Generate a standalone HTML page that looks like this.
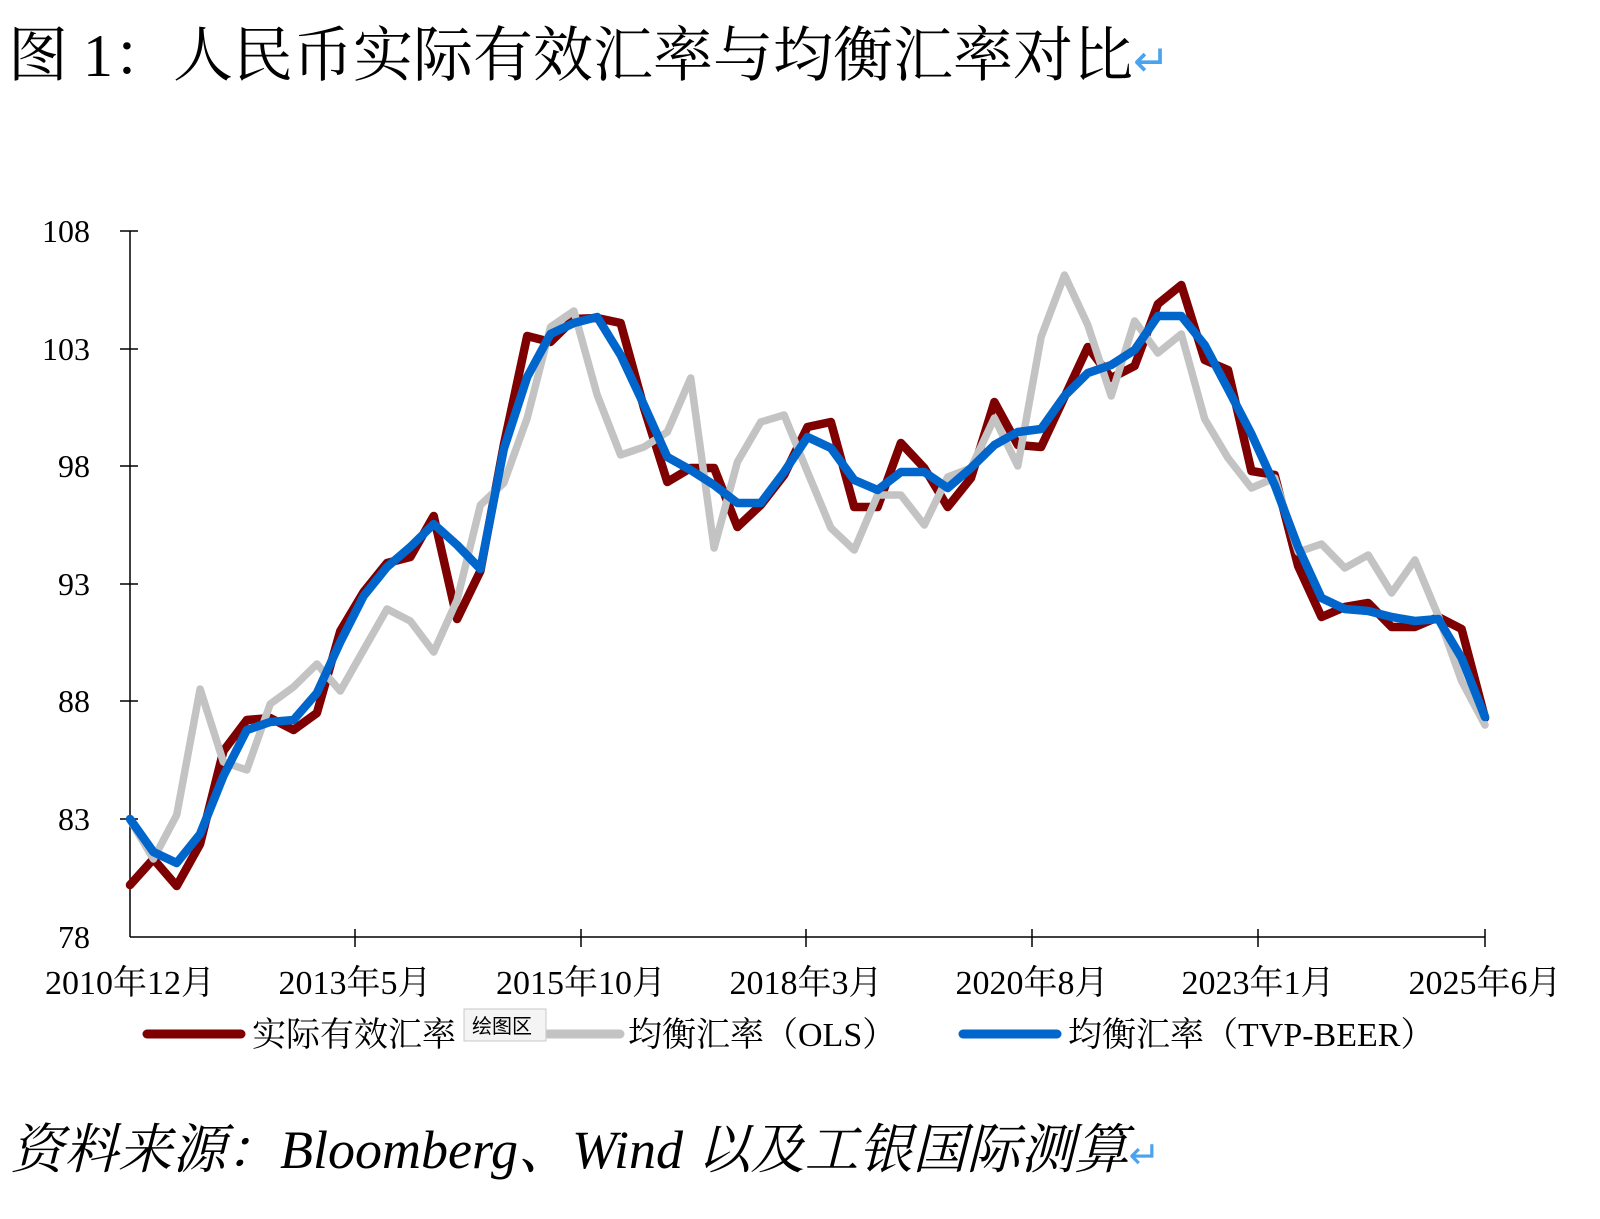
<!DOCTYPE html>
<html><head><meta charset="utf-8">
<style>
html,body{margin:0;padding:0;background:#fff;}
body{width:1600px;height:1214px;overflow:hidden;position:relative;}
</style></head>
<body>
<svg id="s" width="1600" height="1214" viewBox="0 0 1600 1214" xmlns="http://www.w3.org/2000/svg">
<text x="8" y="76" font-family="'Liberation Serif','Noto Serif CJK SC',serif" font-size="60" fill="#000">图 1：人民币实际有效汇率与均衡汇率对比<tspan fill="#4aa3ee" font-size="44">↵</tspan></text>
<g font-family="'Liberation Serif','Noto Serif CJK SC',serif" font-size="32" fill="#000" text-anchor="end">
<text x="90" y="242">108</text>
<text x="90" y="360">103</text>
<text x="90" y="477">98</text>
<text x="90" y="595">93</text>
<text x="90" y="712">88</text>
<text x="90" y="830">83</text>
<text x="90" y="948">78</text>
</g>
<g stroke="#000" stroke-width="1.5">
<line x1="130" y1="231" x2="130" y2="937"/>
<line x1="130" y1="937" x2="1485" y2="937"/>
<line x1="120" y1="231" x2="138" y2="231"/>
<line x1="120" y1="349" x2="138" y2="349"/>
<line x1="120" y1="466" x2="138" y2="466"/>
<line x1="120" y1="584" x2="138" y2="584"/>
<line x1="120" y1="701" x2="138" y2="701"/>
<line x1="120" y1="819" x2="138" y2="819"/>
<line x1="355" y1="929" x2="355" y2="947"/>
<line x1="581" y1="929" x2="581" y2="947"/>
<line x1="806" y1="929" x2="806" y2="947"/>
<line x1="1032" y1="929" x2="1032" y2="947"/>
<line x1="1258" y1="929" x2="1258" y2="947"/>
<line x1="1485" y1="929" x2="1485" y2="947"/>
</g>
<g font-family="'Liberation Serif','Noto Serif CJK SC',serif" font-size="34" fill="#000" text-anchor="middle">
<text x="130" y="994">2010年12月</text>
<text x="355" y="994">2013年5月</text>
<text x="581" y="994">2015年10月</text>
<text x="806" y="994">2018年3月</text>
<text x="1032" y="994">2020年8月</text>
<text x="1258" y="994">2023年1月</text>
<text x="1485" y="994">2025年6月</text>
</g>
<g id="lines" fill="none" stroke-linejoin="round" stroke-linecap="round"></g>
<g>
<line x1="147" y1="1034" x2="241" y2="1034" stroke="#7f0000" stroke-width="9" stroke-linecap="round"/>
<line x1="548" y1="1034" x2="620" y2="1034" stroke="#c3c3c3" stroke-width="9" stroke-linecap="round"/>
<line x1="963" y1="1034" x2="1057" y2="1034" stroke="#0066cc" stroke-width="9" stroke-linecap="round"/>
<g font-family="'Liberation Serif','Noto Serif CJK SC',serif" font-size="34" fill="#000">
<text x="252" y="1046">实际有效汇率</text>
<text x="628" y="1046">均衡汇率（OLS）</text>
<text x="1068" y="1046">均衡汇率（TVP-BEER）</text>
</g>
<rect x="464" y="1009" width="82" height="32" fill="#f4f4f4" stroke="#c8c8c8" stroke-width="1"/>
<text x="472" y="1033" font-family="'Noto Sans CJK SC',sans-serif" font-size="20" fill="#000">绘图区</text>
</g>
<text x="10" y="1168" font-family="'Liberation Serif','Noto Serif CJK SC',serif" font-size="54" font-style="italic" fill="#000">资料来源：Bloomberg、Wind 以及工银国际测算<tspan fill="#4aa3ee" font-size="38" font-style="normal">↵</tspan></text>
</svg>
<script>
var red=[885,859,886,844,751,720,718,730,713,631,592,563,557,516,619,571,445,336,342,319,318,323,408,482,468,468,527,505,475,427,422,507,507,443,468,507,478,402,445,447,397,347,378,366,304,285,360,370,471,475,566,617,607,603,627,627,617,629,718];
var gray=[820,859,815,689,762,770,704,687,664,691,650,609,621,652,600,505,483,418,327,311,395,455,447,432,378,548,462,422,415,472,528,550,495,495,525,477,468,418,466,337,275,325,396,321,353,334,419,458,488,478,552,544,568,555,593,560,616,681,725];
var blue=[819,852,863,834,776,730,722,720,693,642,596,567,547,524,545,569,449,377,334,323,317,355,405,457,470,485,503,503,472,437,448,480,490,472,472,488,468,445,432,429,396,373,365,350,316,316,345,389,434,485,547,598,609,611,617,621,619,658,717];
function pts(a){return a.map(function(y,i){return (130+i*1355/58).toFixed(1)+","+y;}).join(" ");}
var g=document.getElementById("lines");
var ns="http://www.w3.org/2000/svg";
[[red,"#7f0000",8.5],[gray,"#c3c3c3",7.5],[blue,"#0066cc",8.5]].forEach(function(d){
var p=document.createElementNS(ns,"polyline");
p.setAttribute("points",pts(d[0]));p.setAttribute("stroke",d[1]);p.setAttribute("stroke-width",d[2]);
g.appendChild(p);});
</script>
</body></html>
